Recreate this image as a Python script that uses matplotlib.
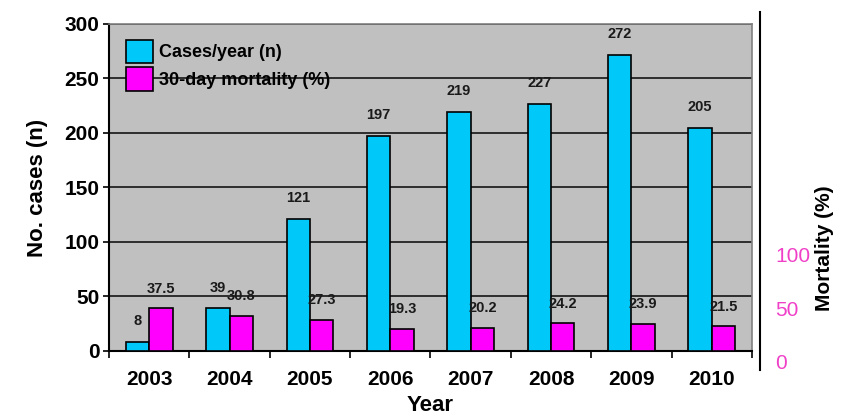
import numpy as np
import matplotlib.pyplot as plt
from matplotlib.patches import Patch

plt.rcParams['font.family'] = ['Liberation Sans', 'DejaVu Sans']
plt.rcParams['font.weight'] = 'bold'

years = ['2003', '2004', '2005', '2006', '2007', '2008', '2009', '2010']
cases = [8, 39, 121, 197, 219, 227, 272, 205]
mortality = [37.5, 30.8, 27.3, 19.3, 20.2, 24.2, 23.9, 21.5]

cyan = '#00C8F8'
magenta = '#FF00FF'
pink = '#F040C8'

fig = plt.figure(figsize=(8.55, 4.2), dpi=100)
ax = fig.add_axes([0.1275, 0.1643, 0.752, 0.7786])
ax.set_facecolor('#C0C0C0')

x = np.arange(len(years))
w = 0.29

ax.bar(x - w / 2, cases, w, color=cyan, edgecolor='black', linewidth=1.2, zorder=3)
for xi, v in zip(x, cases):
    ax.annotate(str(v), (xi - w / 2, v), xytext=(0, 15), textcoords='offset points',
                ha='center', va='center', fontsize=10.5, fontweight='bold', color='#1a1a1a')

ax.set_xlim(-0.5, len(years) - 0.5)
ax.set_ylim(0, 300)
ax.set_yticks([0, 50, 100, 150, 200, 250, 300])
ax.yaxis.grid(True, color='#222222', linewidth=1.3, zorder=1)
ax.set_axisbelow(True)
ax.tick_params(axis='y', labelsize=15, length=4, width=1.2, direction='out', pad=3)
ax.set_xticks(x)
ax.set_xticklabels(years)
ax.set_xticks(np.arange(-0.5, len(years)), minor=True)
ax.tick_params(axis='x', which='major', length=0, labelsize=15, pad=14)
ax.tick_params(axis='x', which='minor', length=5, width=1.2, direction='out')
ax.set_xlabel('Year', fontsize=16, fontweight='bold', labelpad=4)
ax.set_ylabel('No. cases (n)', fontsize=16, fontweight='bold', labelpad=12)
for s in ['left', 'bottom']:
    ax.spines[s].set_linewidth(1.5)
    ax.spines[s].set_color('black')
for s in ['top', 'right']:
    ax.spines[s].set_color('#808080')
    ax.spines[s].set_linewidth(1.2)

# mortality bars share the plot area, scaled on a hidden twin axis
ax2 = ax.twinx()
ax2.set_ylim(0, 300 / 1.05)
ax2.bar(x + w / 2, mortality, w, color=magenta, edgecolor='black', linewidth=1.2, zorder=3)
for xi, v in zip(x, mortality):
    ax2.annotate(f'{v}', (xi + w / 2, v), xytext=(0, 14), textcoords='offset points',
                 ha='center', va='center', fontsize=10.5, fontweight='bold', color='#1a1a1a')
ax2.set_yticks([])
for s in ax2.spines.values():
    s.set_visible(False)

# separate right-hand scale for mortality
axr = fig.add_axes([760 / 855, 50 / 420, 0.0001, 358 / 420])
axr.patch.set_visible(False)
axr.set_xticks([])
for s in ['top', 'right', 'bottom']:
    axr.spines[s].set_visible(False)
axr.spines['left'].set_linewidth(1.5)
axr.set_ylim(-7.5, 327)
axr.yaxis.tick_right()
axr.set_yticks([0, 50, 100])
axr.tick_params(axis='y', length=0, labelsize=15, labelcolor=pink, pad=11)
for t in axr.get_yticklabels():
    t.set_fontweight('normal')
fig.text(824 / 855, 1 - 248 / 420, 'Mortality (%)', rotation=90, ha='center', va='center',
         fontsize=15, fontweight='bold')

handles = [Patch(facecolor=cyan, edgecolor='black', linewidth=1.2),
           Patch(facecolor=magenta, edgecolor='black', linewidth=1.2)]
ax2.legend(handles, ['Cases/year (n)', '30-day mortality (%)'], loc='upper left',
           bbox_to_anchor=(0.01, 0.985), frameon=False, fontsize=13,
           handlelength=1.5, handleheight=1.6, handletextpad=0.3, labelspacing=0.25,
           borderaxespad=0.2)

fig.savefig('out.png', dpi=100)
